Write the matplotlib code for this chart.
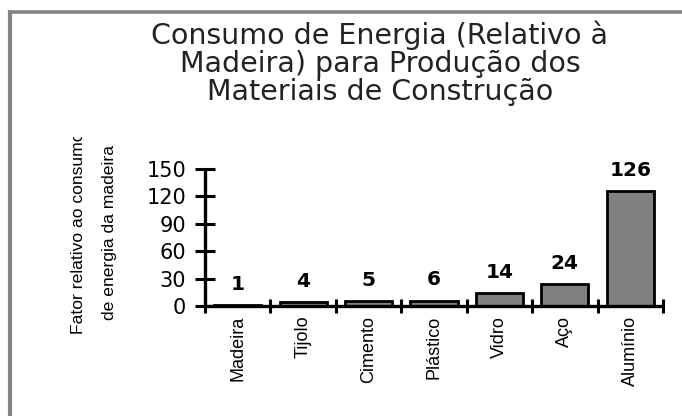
import matplotlib
matplotlib.use('Agg')
import matplotlib.pyplot as plt
from matplotlib.lines import Line2D
from matplotlib.transforms import Bbox, TransformedBbox
import numpy as np

materials = ['Madeira', 'Tijolo', 'Cimento', 'Plástico', 'Vidro', 'Aço', 'Alumínio']
values = [1, 4, 5, 6, 14, 24, 126]
y_ticks = [0, 30, 60, 90, 120, 150]

title = 'Consumo de Energia (Relativo à\nMadeira) para Produção dos\nMateriais de Construção'
ylabel = 'Fator relativo ao consumo\nde energia da madeira'

# rotated text looks condensed in the original, horizontal text looks wide
narrow = ['Liberation Sans', 'DejaVu Sans']
wide = ['DejaVu Sans']

W, H = 682, 416
fig = plt.figure(figsize=(W / 100, H / 100), dpi=100)
fig.patch.set_facecolor('white')

# grey frame at the left and top edge
fig.add_artist(Line2D([10 / W, 10 / W], [0, 1 - 10 / H], transform=fig.transFigure,
                      color='#858585', lw=3.0, solid_capstyle='butt'))
fig.add_artist(Line2D([8 / W, 1], [1 - 11.5 / H, 1 - 11.5 / H], transform=fig.transFigure,
                      color='#858585', lw=2.6, solid_capstyle='butt'))

ax = fig.add_axes([205 / W, 110 / H, 458 / W, 137 / H])
x = np.arange(len(materials))
bars = ax.bar(x, values, width=0.72, color='#808080', edgecolor='black', linewidth=2.0)

ax.set_xlim(-0.5, len(materials) - 0.5)
ax.set_ylim(0, 150)
for s in ['top', 'right']:
    ax.spines[s].set_visible(False)
for s in ['left', 'bottom']:
    ax.spines[s].set_linewidth(2.4)
    ax.spines[s].set_capstyle('butt')

ax.set_yticks(y_ticks)
ax.set_yticklabels([str(v) for v in y_ticks], family=wide, fontsize=15)
ax.tick_params(axis='y', direction='inout', length=15, width=2.2, pad=6, colors='black')

ax.set_xticks(x)
ax.set_xticklabels(materials, rotation=90, family=narrow, fontsize=13, va='top')
ax.tick_params(axis='x', which='major', length=0, pad=7)
ax.set_xticks(np.arange(len(materials) + 1) - 0.5, minor=True)
ax.tick_params(axis='x', which='minor', direction='inout', length=9.5, width=2.2)

for bar, v in zip(bars, values):
    ax.annotate(str(v), (bar.get_x() + bar.get_width() / 2, v), xytext=(0, 15),
                textcoords='offset points', ha='center', va='center',
                family=wide, fontsize=14.5, fontweight='bold')

fig.text(380 / W, 1 - 21 / H, title, ha='center', va='top', multialignment='center',
         family=wide, fontsize=20.5, color='#222222', linespacing=1.0)

yl = fig.text(94 / W, 1 - 233 / H, ylabel, rotation=90, ha='center', va='center',
              multialignment='center', family=narrow, fontsize=12.6, linespacing=2.3)
yl.set_clip_box(TransformedBbox(Bbox.from_extents(0, 0, 1, 1 - 137 / H), fig.transFigure))
yl.set_clip_on(True)

fig.savefig('out.png', dpi=100)
